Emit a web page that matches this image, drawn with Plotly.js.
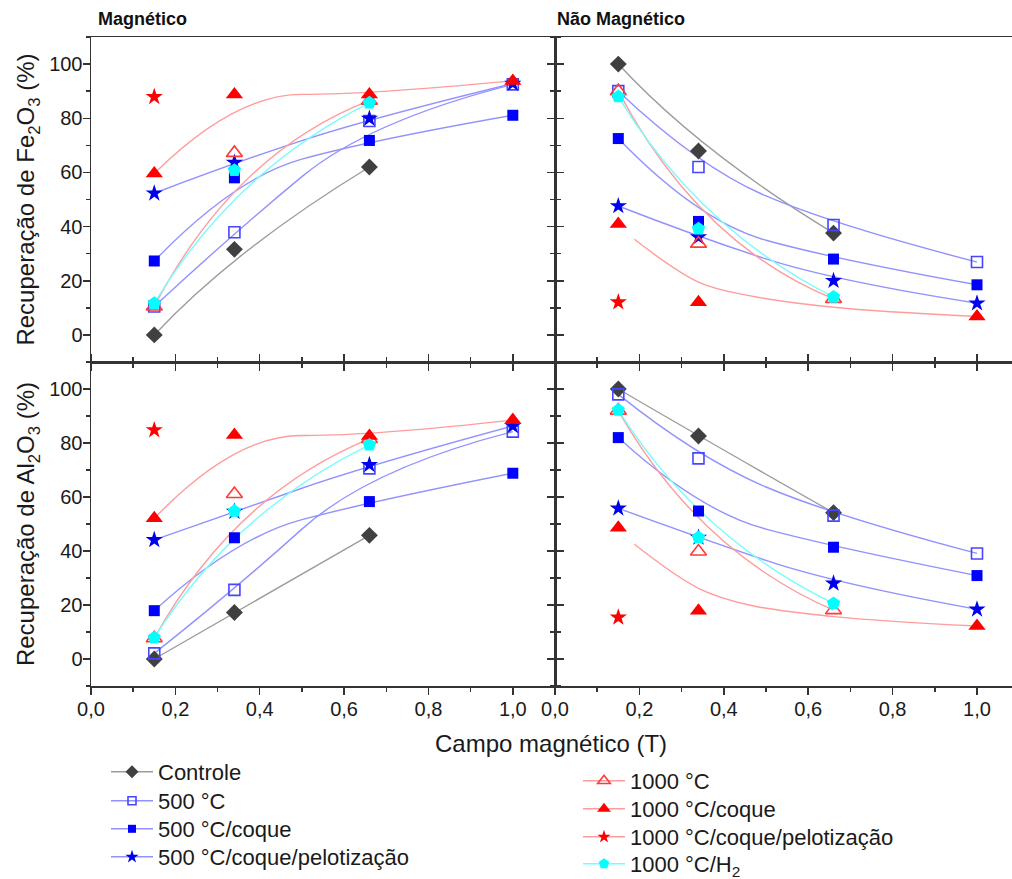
<!DOCTYPE html>
<html>
<head>
<meta charset="utf-8">
<script src="https://cdn.plot.ly/plotly-3.0.1.min.js"></script>
<style>
  html, body { margin: 0; padding: 0; background: #ffffff; }
  #chart { width: 1012px; height: 879px; }
</style>
</head>
<body>
<div id="chart"></div>
<script>
// Campo magnético (T) used in the separations
const campo = [0.15, 0.34, 0.66, 1.0];

// Legend labels
const nomes = [
  'Controle', '500 °C', '500 °C/coque', '500 °C/coque/pelotização',
  '1000 °C', '1000 °C/coque', '1000 °C/coque/pelotização', '1000 °C/H<sub>2</sub>'
];

// Recuperação de Fe2O3 (%) — fração magnética
const feMagControle   = [0.0, 31.6, 62.0, null];
const feMag500        = [10.5, 37.9, 79.0, 92.5];
const feMag500Coque   = [27.3, 58.0, 71.8, 81.1];
const feMag500Pel     = [52.3, 63.6, 79.9, 92.8];
const feMag1000       = [10.5, 67.2, 86.5, null];
const feMag1000Coque  = [59.6, 88.8, 88.8, 93.8];
const feMag1000Pel    = [87.9, null, null, null];
const feMag1000H2     = [11.7, 60.8, 85.7, null];

// Recuperação de Fe2O3 (%) — fração não magnética
const feNMagControle  = [100.0, 67.9, 37.6, null];
const feNMag500       = [90.0, 62.0, 40.6, 26.9];
const feNMag500Coque  = [72.5, 41.9, 28.0, 18.5];
const feNMag500Pel    = [47.6, 36.1, 20.0, 11.7];
const feNMag1000      = [90.0, 33.7, 13.3, null];
const feNMag1000Coque = [41.0, 12.1, null, 6.8];
const feNMag1000Pel   = [12.1, null, null, null];
const feNMag1000H2    = [88.0, 39.2, 14.0, null];

// Recuperação de Al2O3 (%) — fração magnética
const alMagControle   = [0.0, 17.2, 45.8, null];
const alMag500        = [2.1, 25.6, 70.6, 84.2];
const alMag500Coque   = [17.9, 44.9, 58.3, 68.8];
const alMag500Pel     = [44.1, 54.6, 71.9, 86.3];
const alMag1000       = [7.7, 61.1, 81.5, null];
const alMag1000Coque  = [52.1, 83.0, 82.6, 88.5];
const alMag1000Pel    = [84.8, null, null, null];
const alMag1000H2     = [7.9, 54.8, 79.3, null];

// Recuperação de Al2O3 (%) — fração não magnética
const alNMagControle  = [100.0, 82.6, 54.2, null];
const alNMag500       = [98.0, 74.3, 53.1, 39.1];
const alNMag500Coque  = [82.0, 54.8, 41.4, 30.9];
const alNMag500Pel    = [55.8, 45.0, 28.0, 18.4];
const alNMag1000      = [92.0, 39.8, 18.1, null];
const alNMag1000Coque = [48.6, 17.9, null, 12.2];
const alNMag1000Pel   = [15.4, null, null, null];
const alNMag1000H2    = [92.2, 45.0, 20.6, null];

// Trend curve of 1000 °C/coque in the non-magnetic fraction
const curvaCampo     = [0.188, 0.34, 0.46, 0.66, 1.0];
const curvaFeNMag    = [35.3, 19.5, 14.5, 10.2, 6.8];
const curvaAlNMag    = [42.5, 26.2, 20.0, 15.7, 12.2];

// ---- styles ----
const estilos = [
  { symbol: 'diamond',          size: 13, color: '#404040', lw: 0,   line: '#9c9c9c' },
  { symbol: 'square-open',      size: 11, color: '#4646ff', lw: 1.6, line: '#9292ff' },
  { symbol: 'square',           size: 11, color: '#0000ff', lw: 0,   line: '#9292ff' },
  { symbol: 'star',             size: 13, color: '#0000ee', lw: 0,   line: '#9292ff' },
  { symbol: 'triangle-up-open', size: 14, color: '#ff3a3a', lw: 1.6, line: '#ff9c9c' },
  { symbol: 'triangle-up',      size: 15, color: '#ff0000', lw: 0,   line: '#ff9c9c' },
  { symbol: 'star',             size: 13, color: '#ff0000', lw: 0,   line: '#ff9c9c' },
  { symbol: 'pentagon',         size: 14, color: '#00ffff', lw: 0,   line: '#7afcfc' }
];

const paineis = [
  { xa: 'x3', ya: 'y3', series: [feMagControle, feMag500, feMag500Coque, feMag500Pel,
                                 feMag1000, feMag1000Coque, feMag1000Pel, feMag1000H2], curva: null },
  { xa: 'x4', ya: 'y4', series: [feNMagControle, feNMag500, feNMag500Coque, feNMag500Pel,
                                 feNMag1000, feNMag1000Coque, feNMag1000Pel, feNMag1000H2], curva: curvaFeNMag },
  { xa: 'x',  ya: 'y',  series: [alMagControle, alMag500, alMag500Coque, alMag500Pel,
                                 alMag1000, alMag1000Coque, alMag1000Pel, alMag1000H2], curva: null },
  { xa: 'x2', ya: 'y2', series: [alNMagControle, alNMag500, alNMag500Coque, alNMag500Pel,
                                 alNMag1000, alNMag1000Coque, alNMag1000Pel, alNMag1000H2], curva: curvaAlNMag }
];

// Quadratic B-spline connection (clamped, uniform) written as an SVG path in data units
function caminhoBSpline(xs, ys) {
  const p = [];
  xs.forEach((x, i) => { if (ys[i] !== null) p.push([x, ys[i]]); });
  if (p.length < 2) return null;
  let d = 'M' + p[0][0] + ',' + p[0][1];
  if (p.length === 2) return d + 'L' + p[1][0] + ',' + p[1][1];
  for (let i = 1; i <= p.length - 2; i++) {
    const c = p[i];
    const e = (i === p.length - 2) ? p[i + 1]
      : [(p[i][0] + p[i + 1][0]) / 2, (p[i][1] + p[i + 1][1]) / 2];
    d += 'Q' + c[0] + ',' + c[1] + ' ' + e[0] + ',' + e[1];
  }
  return d;
}

const traces = [];
const shapes = [];

paineis.forEach(pn => {
  pn.series.forEach((ys, k) => {
    const st = estilos[k];
    const usaCurva = (k === 5 && pn.curva);
    if (!usaCurva) {
      const d = caminhoBSpline(campo, ys);
      if (d) shapes.push({
        type: 'path', path: d, xref: pn.xa, yref: pn.ya, layer: 'below',
        line: { color: st.line, width: 1.4 }
      });
    }
  });
  if (pn.curva) {
    traces.push({
      type: 'scatter', mode: 'lines', x: curvaCampo, y: pn.curva,
      xaxis: pn.xa, yaxis: pn.ya, showlegend: false, hoverinfo: 'skip',
      line: { color: estilos[5].line, width: 1.4, shape: 'spline', smoothing: 1 }
    });
  }
  pn.series.forEach((ys, k) => {
    const st = estilos[k];
    traces.push({
      type: 'scatter', mode: 'markers', x: campo, y: ys,
      xaxis: pn.xa, yaxis: pn.ya, name: nomes[k], legendgroup: 'g' + k,
      showlegend: false, cliponaxis: false,
      marker: { symbol: st.symbol, size: st.size, color: st.color,
                line: { color: st.color, width: st.lw } }
    });
  });
});

// Legend entries (line + symbol), one legend box per entry
const chaveLegenda = k => (k === 0 ? 'legend' : 'legend' + (k + 1));
nomes.forEach((nm, k) => {
  const st = estilos[k];
  traces.push({
    type: 'scatter', mode: 'lines+markers', x: [null], y: [null],
    xaxis: 'x3', yaxis: 'y3', name: nm, legendgroup: 'g' + k,
    legend: chaveLegenda(k), showlegend: true, hoverinfo: 'skip',
    line: { color: st.line, width: 1.4 },
    marker: { symbol: st.symbol, size: st.size - 3, color: st.color,
              line: { color: st.color, width: st.lw } }
  });
});

// ---- layout ----
const W = 1012, H = 879;
const mL = 91, mR = 0, mT = 37, mB = 193;
const pw = W - mL - mR, ph = H - mT - mB;
const splitX = 464 / pw;
const splitY = 324 / ph;
const px2x = p => (p - mL) / pw;
const px2y = p => (H - mB - p) / ph;

const corEixo = '#333333';
const fonte = 'Liberation Sans, Arial, sans-serif';

function eixoX(dom, faixa, extra) {
  return Object.assign({
    domain: dom, range: faixa, tick0: 0, dtick: 0.2, tickformat: '.1f',
    showline: true, linecolor: corEixo, linewidth: 1.5,
    ticks: 'outside', ticklen: 7, tickwidth: 1.5, tickcolor: corEixo,
    minor: { ticks: 'outside', dtick: 0.1, ticklen: 4, tickwidth: 1.5, tickcolor: corEixo },
    showgrid: false, zeroline: false, fixedrange: true, ticklabelstandoff: -3,
    tickfont: { family: fonte, size: 20, color: '#1a1a1a' }
  }, extra);
}
function eixoY(dom, extra) {
  return Object.assign({
    domain: dom, range: [-10, 110], tick0: 0, dtick: 20,
    showline: true, linecolor: corEixo, linewidth: 1.5,
    ticks: 'outside', ticklen: 7, tickwidth: 1.5, tickcolor: corEixo,
    minor: { ticks: 'outside', dtick: 10, ticklen: 4, tickwidth: 1.5, tickcolor: corEixo },
    showgrid: false, zeroline: false, fixedrange: true, ticklabelstandoff: -4,
    tickfont: { family: fonte, size: 20, color: '#1a1a1a' }
  }, extra);
}
const faixaE = [0, 1.1];
const faixaD = [0, (pw - 464) / 422];
const fonteTituloY = { family: fonte, size: 24, color: '#1a1a1a' };

// legend rows: left column, then right column
const legX = [106, 106, 106, 106, 578, 578, 578, 578];
const legY = [772, 801, 829, 857, 781, 809, 837, 864];

const layout = {
  width: W, height: H,
  margin: { l: mL, r: mR, t: mT, b: mB, pad: 0, autoexpand: false },
  paper_bgcolor: '#ffffff', plot_bgcolor: '#ffffff',
  separators: ',.',
  font: { family: fonte, size: 20, color: '#1a1a1a' },
  hovermode: false,
  // bottom row (Al2O3)
  xaxis:  eixoX([0, splitX], faixaE, { anchor: 'y', mirror: 'ticks' }),
  yaxis:  eixoY([0, splitY], { anchor: 'x', mirror: 'ticks',
            title: { text: 'Recuperação de Al<sub>2</sub>O<sub>3</sub> (%)', standoff: 7, font: fonteTituloY } }),
  xaxis2: eixoX([splitX, 1], faixaD, { anchor: 'y2', mirror: 'ticks' }),
  yaxis2: eixoY([0, splitY], { anchor: 'x2', showticklabels: false }),
  // top row (Fe2O3)
  xaxis3: eixoX([0, splitX], faixaE, { anchor: 'y3', mirror: true, showticklabels: false }),
  yaxis3: eixoY([splitY, 1], { anchor: 'x3', mirror: 'ticks',
            title: { text: 'Recuperação de Fe<sub>2</sub>O<sub>3</sub> (%)', standoff: 7, font: fonteTituloY } }),
  xaxis4: eixoX([splitX, 1], faixaD, { anchor: 'y4', mirror: true, showticklabels: false }),
  yaxis4: eixoY([splitY, 1], { anchor: 'x4', showticklabels: false }),
  // inward ticks along the top edge
  xaxis5: eixoX([0, splitX], faixaE, { overlaying: 'x3', anchor: 'y3', side: 'top',
            showline: false, showticklabels: false, ticks: 'inside',
            minor: { ticks: 'inside', dtick: 0.1, ticklen: 4, tickwidth: 1.5, tickcolor: corEixo } }),
  xaxis6: eixoX([splitX, 1], faixaD, { overlaying: 'x4', anchor: 'y4', side: 'top',
            showline: false, showticklabels: false, ticks: 'inside',
            minor: { ticks: 'inside', dtick: 0.1, ticklen: 4, tickwidth: 1.5, tickcolor: corEixo } }),
  shapes: shapes,
  annotations: [
    { text: 'Magnético', xref: 'paper', yref: 'paper', x: px2x(96), y: px2y(19),
      xanchor: 'left', yanchor: 'middle', showarrow: false,
      font: { family: fonte, size: 18, weight: 'bold', color: '#111111' } },
    { text: 'Não Magnético', xref: 'paper', yref: 'paper', x: px2x(555), y: px2y(19),
      xanchor: 'left', yanchor: 'middle', showarrow: false,
      font: { family: fonte, size: 18, weight: 'bold', color: '#111111' } },
    { text: 'Campo magnético (T)', xref: 'paper', yref: 'paper', x: px2x(551), y: px2y(743),
      xanchor: 'center', yanchor: 'middle', showarrow: false,
      font: { family: fonte, size: 24, color: '#1a1a1a' } }
  ]
};

nomes.forEach((nm, k) => {
  layout[chaveLegenda(k)] = {
    x: px2x(legX[k]), xanchor: 'left', y: px2y(legY[k]), yanchor: 'middle',
    bgcolor: 'rgba(0,0,0,0)', borderwidth: 0, itemwidth: 42,
    font: { family: fonte, size: 22, color: '#1a1a1a' }
  };
});

Plotly.newPlot('chart', traces, layout, { displayModeBar: false, staticPlot: true });
</script>
</body>
</html>
